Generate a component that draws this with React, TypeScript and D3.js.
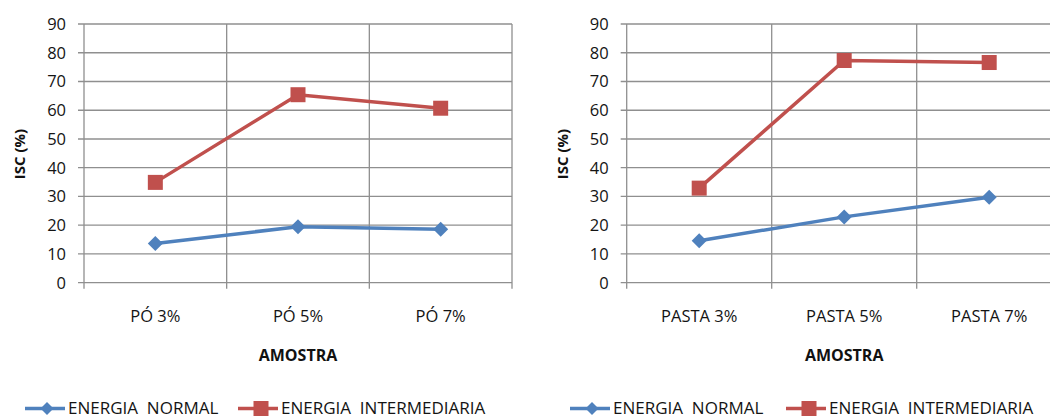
import React from "react";
import * as d3 from "d3";

const yTicks = [0, 10, 20, 30, 40, 50, 60, 70, 80, 90];
const categoriesPo = ["PÓ 3%", "PÓ 5%", "PÓ 7%"];
const categoriesPasta = ["PASTA 3%", "PASTA 5%", "PASTA 7%"];
const poNormal = [13.6, 19.5, 18.6];
const poIntermediaria = [34.9, 65.4, 60.7];
const pastaNormal = [14.6, 22.9, 29.7];
const pastaIntermediaria = [32.9, 77.3, 76.6];
const seriesNames = ["ENERGIA  NORMAL", "ENERGIA  INTERMEDIARIA"];
const yTitle = "ISC (%)";
const xTitle = "AMOSTRA";

const BLUE = "#4F81BD";
const RED = "#C0504D";
const GRID = "#8f8f8f";
const FONT = "'Open Sans', 'Noto Sans', sans-serif";
const TXT = "#141414";

type PanelProps = {
  x0: number;
  x1: number;
  cats: string[];
  normal: number[];
  inter: number[];
  yTitleX: number;
  legendX: number;
  legend2X: number;
};

function Diamond({ cx, cy, r }: { cx: number; cy: number; r: number }) {
  return <path d={`M${cx},${cy - r}L${cx + r},${cy}L${cx},${cy + r}L${cx - r},${cy}Z`} fill={BLUE} />;
}
function Square({ cx, cy, s }: { cx: number; cy: number; s: number }) {
  return <rect x={cx - s / 2} y={cy - s / 2} width={s} height={s} fill={RED} />;
}

function Panel({ x0, x1, cats, normal, inter, yTitleX, legendX, legend2X }: PanelProps) {
  const yTop = 24;
  const yBot = 282.7;
  const y = d3.scaleLinear().domain([0, 90]).range([yBot, yTop]);
  const x = d3.scaleBand<string>().domain(cats).range([x0, x1]).padding(0);
  const cx = (c: string) => (x(c) as number) + x.bandwidth() / 2;
  const line = d3
    .line<number>()
    .x((_, i) => cx(cats[i]))
    .y((d) => y(d));
  const boundaries = [x0, ...cats.map((c) => (x(c) as number) + x.bandwidth())];
  const legY = 408.5;
  return (
    <g>
      {yTicks.map((t) => (
        <g key={"y" + t}>
          <line x1={x0 - 6} x2={x1} y1={y(t)} y2={y(t)} stroke={GRID} strokeWidth={1.3} />
          <text x={x0 - 18} y={y(t)} dy="0.36em" textAnchor="end" fontSize={16.5} fill={TXT} fontFamily={FONT}>
            {t}
          </text>
        </g>
      ))}
      {boundaries.map((b, i) => (
        <line key={"v" + i} x1={b} x2={b} y1={yTop} y2={yBot + 6} stroke={GRID} strokeWidth={1.3} />
      ))}
      {cats.map((c) => (
        <text key={c} x={cx(c)} y={322} textAnchor="middle" fontSize={16.5} fill={TXT} fontFamily={FONT}>
          {c}
        </text>
      ))}
      <text x={(x0 + x1) / 2} y={361} textAnchor="middle" fontSize={16} fontWeight="bold" fill="#111" fontFamily={FONT}>
        {xTitle}
      </text>
      <text
        transform={`translate(${yTitleX},${154}) rotate(-90)`}
        textAnchor="middle"
        dy="0.36em"
        fontSize={15}
        fontWeight="bold"
        fill="#111"
        fontFamily={FONT}
      >
        {yTitle}
      </text>
      <path d={line(inter) || ""} fill="none" stroke={RED} strokeWidth={3.5} />
      <path d={line(normal) || ""} fill="none" stroke={BLUE} strokeWidth={3.5} />
      {inter.map((v, i) => (
        <Square key={"s" + i} cx={cx(cats[i])} cy={y(v)} s={15} />
      ))}
      {normal.map((v, i) => (
        <Diamond key={"d" + i} cx={cx(cats[i])} cy={y(v)} r={7.5} />
      ))}
      {/* legend */}
      <line x1={legendX} x2={legendX + 40} y1={legY} y2={legY} stroke={BLUE} strokeWidth={3.5} />
      <Diamond cx={legendX + 22} cy={legY} r={6.5} />
      <text x={legendX + 43} y={414} fontSize={17} fill={TXT} fontFamily={FONT} style={{ whiteSpace: "pre" }}>
        {seriesNames[0]}
      </text>
      <line x1={legend2X} x2={legend2X + 40} y1={legY} y2={legY} stroke={RED} strokeWidth={3.5} />
      <Square cx={legend2X + 23} cy={legY} s={15} />
      <text x={legend2X + 43} y={414} fontSize={17} fill={TXT} fontFamily={FONT} style={{ whiteSpace: "pre" }}>
        {seriesNames[1]}
      </text>
    </g>
  );
}

export default function App() {
  return (
    <svg
      width={1050}
      height={417}
      style={{ position: "absolute", left: 0, top: 0, background: "#fff" }}
    >
      <rect width={1050} height={417} fill="#fff" />
      <Panel
        x0={84}
        x1={512}
        cats={categoriesPo}
        normal={poNormal}
        inter={poIntermediaria}
        yTitleX={20}
        legendX={25}
        legend2X={238}
      />
      <Panel
        x0={626.7}
        x1={1061.7}
        cats={categoriesPasta}
        normal={pastaNormal}
        inter={pastaIntermediaria}
        yTitleX={563}
        legendX={570}
        legend2X={786}
      />
    </svg>
  );
}
